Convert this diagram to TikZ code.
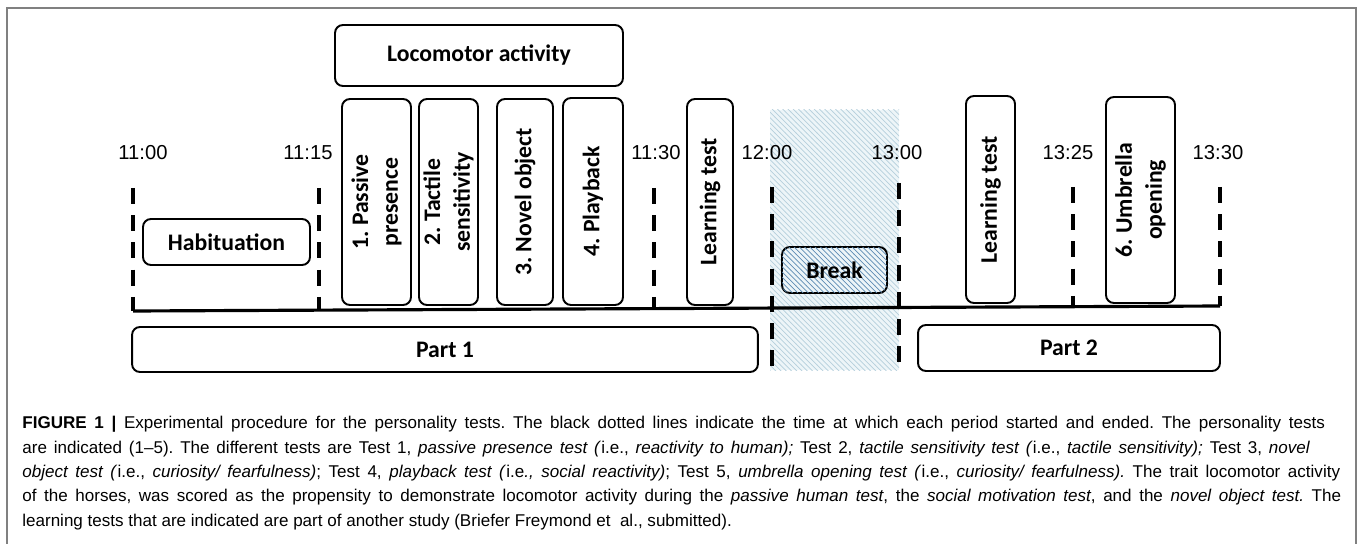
\documentclass[tikz,border=0pt]{standalone}
\usepackage{fontspec}
\setmainfont{Liberation Sans}
\newfontfamily\boxfont{Carlito}
\usetikzlibrary{patterns}

\definecolor{breakbg}{HTML}{EDF5F8}
\definecolor{breakhatch}{HTML}{B5CFDC}
\definecolor{breakdark}{HTML}{5E8CB4}
\definecolor{framegray}{HTML}{808080}

\begin{document}
\frenchspacing
\begin{tikzpicture}[x=0.02cm, y=-0.02cm]
	\tikzstyle{stage} = [draw, rounded corners=4.5pt, line width=1.1pt, inner sep=0pt, font=\boxfont\bfseries\fontsize{13.5}{17}\selectfont]
	\tikzstyle{test} = [stage, rotate=90, align=center]
	\tikzstyle{clock} = [inner sep=0pt, font=\fontsize{11.5}{14}\selectfont]
	\tikzstyle{timeline} = [line width=1.9pt, dash pattern=on 9pt off 6.5pt]
	\useasboundingbox (0,0) rectangle (1357,544);
	\draw [framegray, line width=0.8pt] (7,544) -- (7,8) -- (1356,8) -- (1356,544);
	% lunch break
	\fill [breakbg] (770,110) rectangle (899,370);
	\fill [pattern=north west lines, pattern color=breakhatch] (770,110) rectangle (899,370);
	% time axis
	\coordinate (AxisStart) at (133,311);
	\coordinate (AxisEnd) at (1220,306);
	\draw [line width=1.8pt] (AxisStart)--(AxisEnd);
	\node[clock] (T1100) at (143,153) {11:00};
	\node[clock] (T1115) at (308,153) {11:15};
	\node[clock] (T1130) at (656,153) {11:30};
	\node[clock] (T1200) at (767,153) {12:00};
	\node[clock] (T1300) at (897,153) {13:00};
	\node[clock] (T1325) at (1068,153) {13:25};
	\node[clock] (T1330) at (1218,153) {13:30};
	\draw [timeline] (133,188)--(133,311);
	\draw [timeline] (319,188)--(319,310);
	\draw [timeline] (654,188)--(654,309);
	\draw [timeline] (772,187)--(772,367);
	\draw [timeline] (899,183)--(899,362);
	\draw [timeline] (1073,187)--(1073,307);
	\draw [timeline] (1220,187)--(1220,306);
	% periods and tests
	\node[stage, minimum width=5.76cm, minimum height=1.22cm] (Locomotor) at (479,55.5) {Locomotor activity};
	\node[stage, minimum width=3.34cm, minimum height=0.92cm] (Habituation) at (226.5,242) {Habituation};
	\node[test, minimum width=4.12cm, minimum height=1.38cm] (Passive) at (376.5,202) {1. Passive\\presence};
	\node[test, minimum width=4.12cm, minimum height=1.18cm] (Tactile) at (448.5,202) {2. Tactile\\sensitivity};
	\node[test, minimum width=4.12cm, minimum height=1.12cm] (Novel) at (525,202) {3. Novel object};
	\node[test, minimum width=4.14cm, minimum height=1.20cm] (Playback) at (593,201.5) {4. Playback};
	\node[test, minimum width=4.12cm, minimum height=0.92cm] (LearningA) at (710,202) {Learning test};
	\node[stage, minimum width=2.10cm, minimum height=0.92cm, fill=breakbg, postaction={pattern=north west lines, pattern color=breakdark}] (Break) at (834.5,270) {Break};
	\node[test, minimum width=4.14cm, minimum height=0.98cm] (LearningB) at (990.5,199.5) {Learning test};
	\node[test, minimum width=4.12cm, minimum height=1.38cm] (Umbrella) at (1140.5,200) {6. Umbrella\\opening};
	\node[stage, minimum width=12.52cm, minimum height=0.90cm] (PartA) at (445,349.5) {Part 1};
	\node[stage, minimum width=6.04cm, minimum height=0.92cm] (PartB) at (1069,348) {Part 2};
	% caption
	\node[anchor=north west, inner sep=0pt, align=left, font=\fontsize{9.7}{13.9}\selectfont] (Caption) at (22,416) {%
		\makebox[26.06cm][s]{\textbf{FIGURE 1 |} Experimental procedure for the personality tests. The black dotted lines indicate the time at which each period started and ended. The personality tests}\\
		\makebox[25.76cm][s]{are indicated (1--5). The different tests are Test 1, \textit{passive presence test (}i.e., \textit{reactivity to human);} Test 2, \textit{tactile sensitivity test (}i.e., \textit{tactile sensitivity);} Test 3, \textit{novel}}\\
		\makebox[26.36cm][s]{\textit{object test (}i.e., \textit{curiosity/ fearfulness)}; Test 4, \textit{playback test (}i.e\textit{., social reactivity)}; Test 5, \textit{umbrella opening test (}i.e., \textit{curiosity/ fearfulness).} The trait locomotor activity}\\
		\makebox[26.38cm][s]{of the horses, was scored as the propensity to demonstrate locomotor activity during the \textit{passive human test}, the \textit{social motivation test}, and the \textit{novel object test.} The}\\
		learning tests that are indicated are part of another study (Briefer Freymond et~~al., submitted).};
\end{tikzpicture}
\end{document}
